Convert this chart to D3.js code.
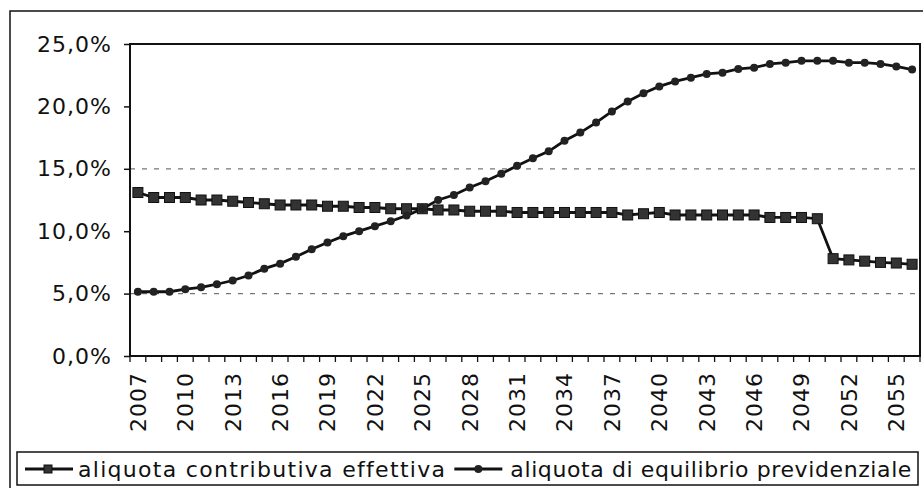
<!DOCTYPE html>
<html>
<head>
<meta charset="utf-8">
<script src="https://cdn.jsdelivr.net/npm/d3@7"></script>
<style>
  html, body { margin: 0; padding: 0; background: #fff; }
  svg { display: block; }
  text { font-family: "DejaVu Sans", Verdana, sans-serif; fill: #111; }
</style>
</head>
<body>
<svg id="chart" width="923" height="488"></svg>
<script>
const years = [2007,2008,2009,2010,2011,2012,2013,2014,2015,2016,2017,2018,2019,2020,2021,2022,2023,2024,2025,2026,2027,2028,2029,2030,2031,2032,2033,2034,2035,2036,2037,2038,2039,2040,2041,2042,2043,2044,2045,2046,2047,2048,2049,2050,2051,2052,2053,2054,2055,2056];
const labelYears = [2007,2010,2013,2016,2019,2022,2025,2028,2031,2034,2037,2040,2043,2046,2049,2052,2055];
const effettiva = [13.1,12.7,12.7,12.7,12.5,12.5,12.4,12.3,12.2,12.1,12.1,12.1,12.0,12.0,11.9,11.9,11.8,11.8,11.8,11.7,11.7,11.6,11.6,11.6,11.5,11.5,11.5,11.5,11.5,11.5,11.5,11.3,11.4,11.5,11.3,11.3,11.3,11.3,11.3,11.3,11.1,11.1,11.1,11.0,7.8,7.7,7.6,7.5,7.45,7.35];
const equilibrio = [5.15,5.15,5.15,5.35,5.5,5.75,6.05,6.45,7.0,7.4,7.95,8.55,9.1,9.6,10.0,10.4,10.8,11.25,11.8,12.5,12.9,13.5,14.0,14.6,15.25,15.85,16.4,17.25,17.9,18.7,19.6,20.4,21.05,21.6,22.0,22.3,22.6,22.7,23.0,23.1,23.4,23.5,23.65,23.65,23.65,23.5,23.5,23.4,23.2,22.95];
const yTicks = [0,5,10,15,20,25];
const gridValues = [5,15];
const seriesNames = ["aliquota contributiva effettiva", "aliquota di equilibrio previdenziale"];

const svg = d3.select("#chart");
const L = 130, R = 920, T = 44, B = 356;

// outer frame
svg.append("rect").attr("x", 10).attr("y", 11).attr("width", 930).attr("height", 500)
  .attr("fill", "#fff").attr("stroke", "#111").attr("stroke-width", 1.5);

const x = d3.scaleBand().domain(years).range([L, R]).padding(0);
const y = d3.scaleLinear().domain([0, 25]).range([B, T]);
const cx = d => x(d) + x.bandwidth() / 2;

const it = d3.formatLocale({decimal: ",", thousands: ".", grouping: [3], currency: ["€", ""]});
const f1 = it.format(".1f");

// gridlines
svg.append("g").selectAll("line").data(gridValues).join("line")
  .attr("x1", L).attr("x2", R).attr("y1", d => y(d)).attr("y2", d => y(d))
  .attr("stroke", "#777").attr("stroke-width", 1.2).attr("stroke-dasharray", "5,7");

// y axis
const yAxis = svg.append("g").attr("transform", `translate(${L},0)`)
  .call(d3.axisLeft(y).tickValues(yTicks).tickSize(6).tickPadding(12).tickFormat(d => f1(d) + "%"));
yAxis.select(".domain").remove();
yAxis.selectAll(".tick line").attr("stroke", "#111").attr("stroke-width", 1.5);
yAxis.selectAll("text").attr("font-size", 22).attr("letter-spacing", "1px")
  .attr("font-family", "DejaVu Sans, Verdana, sans-serif").attr("fill", "#111");

// x axis labels
const xAxis = svg.append("g").attr("transform", `translate(0,${B})`)
  .call(d3.axisBottom(x).tickValues(labelYears).tickSize(0).tickPadding(0));
xAxis.select(".domain").remove();
xAxis.selectAll(".tick text")
  .attr("font-size", 22).attr("letter-spacing", "1px")
  .attr("font-family", "DejaVu Sans, Verdana, sans-serif").attr("fill", "#111")
  .attr("text-anchor", "end")
  .attr("transform", "translate(0,16) rotate(-90)")
  .attr("x", 0).attr("y", 0).attr("dy", "0.36em").attr("dx", 0);

// x boundary ticks
const bounds = years.map(d => x(d)).concat([R]);
svg.append("g").selectAll("line").data(bounds).join("line")
  .attr("x1", d => d).attr("x2", d => d).attr("y1", B).attr("y2", B + 6)
  .attr("stroke", "#111").attr("stroke-width", 1.3);

// plot border
svg.append("rect").attr("x", L).attr("y", T).attr("width", R - L).attr("height", B - T)
  .attr("fill", "none").attr("stroke", "#111").attr("stroke-width", 2);

// lines
const lineGen = d3.line().x((d, i) => cx(years[i])).y(d => y(d));
svg.append("path").datum(effettiva).attr("d", lineGen)
  .attr("fill", "none").attr("stroke", "#111").attr("stroke-width", 2.8);
svg.append("path").datum(equilibrio).attr("d", lineGen)
  .attr("fill", "none").attr("stroke", "#111").attr("stroke-width", 2.8);

// markers
svg.append("g").selectAll("rect").data(effettiva).join("rect")
  .attr("x", (d, i) => cx(years[i]) - 5).attr("y", d => y(d) - 5)
  .attr("width", 10).attr("height", 10)
  .attr("fill", "#333").attr("stroke", "#111").attr("stroke-width", 1);
svg.append("g").selectAll("circle").data(equilibrio).join("circle")
  .attr("cx", (d, i) => cx(years[i])).attr("cy", d => y(d)).attr("r", 4)
  .attr("fill", "#222");

// legend
const lg = svg.append("g");
lg.append("rect").attr("x", 17).attr("y", 452).attr("width", 901).attr("height", 33)
  .attr("fill", "#fff").attr("stroke", "#111").attr("stroke-width", 1.5);
const ly = 469;
lg.append("line").attr("x1", 25).attr("x2", 73).attr("y1", ly).attr("y2", ly)
  .attr("stroke", "#111").attr("stroke-width", 2.8);
lg.append("rect").attr("x", 44).attr("y", ly - 4).attr("width", 8).attr("height", 8)
  .attr("fill", "#333").attr("stroke", "#111");
const t1 = lg.append("text").attr("x", 78).attr("y", ly).attr("dy", "0.35em")
  .attr("font-size", 22).attr("letter-spacing", "1.3px").text(seriesNames[0]);
const e1 = 78 + t1.node().getComputedTextLength();
const t2 = lg.append("text").attr("y", ly).attr("dy", "0.35em")
  .attr("font-size", 22).attr("letter-spacing", "0.6px").text(seriesNames[1]);
const x2 = 912 - t2.node().getComputedTextLength();
t2.attr("x", x2);
const mid = (e1 + x2) / 2;
lg.append("line").attr("x1", mid - 24).attr("x2", mid + 24).attr("y1", ly).attr("y2", ly)
  .attr("stroke", "#111").attr("stroke-width", 2.8);
lg.append("circle").attr("cx", mid).attr("cy", ly).attr("r", 4).attr("fill", "#222");
</script>
</body>
</html>
